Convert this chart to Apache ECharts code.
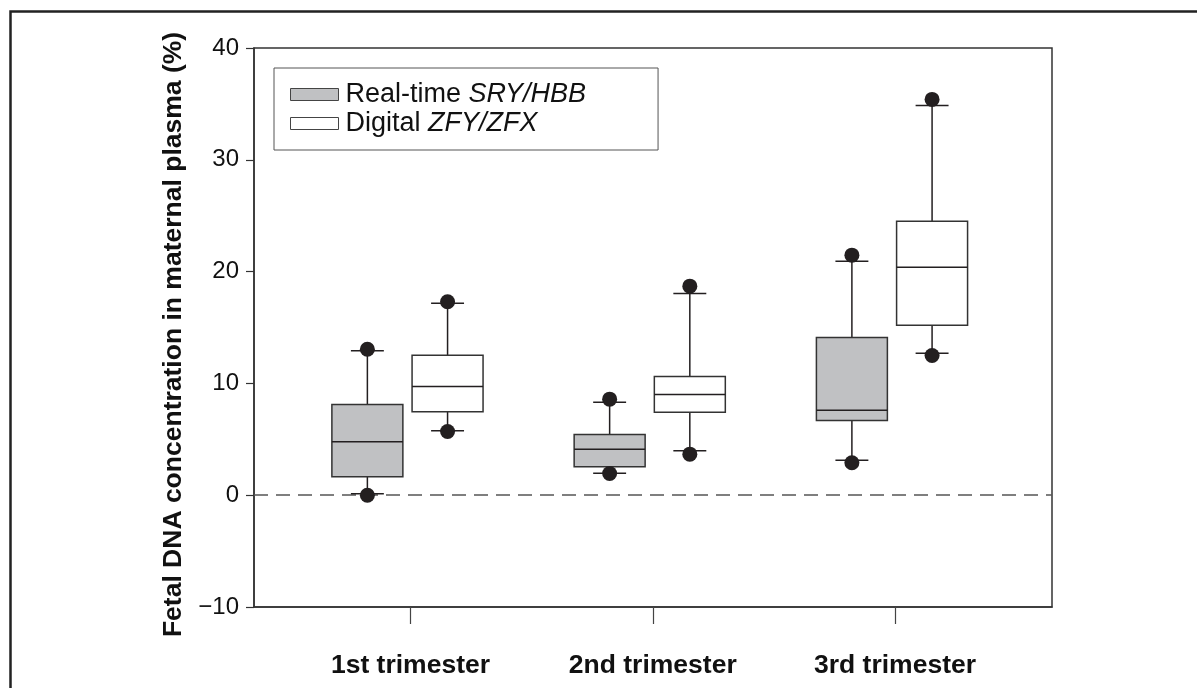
<!DOCTYPE html>
<html>
<head>
<meta charset="utf-8">
<title>Fetal DNA concentration by trimester</title>
<script src="https://cdn.jsdelivr.net/npm/echarts@6/dist/echarts.min.js"></script>
<style>
  html, body { margin: 0; padding: 0; background: #fff; }
  #chart { width: 1197px; height: 688px; }
</style>
</head>
<body>
<div id="chart"></div>
<script>
// categories on the x axis
const trimesters = ['1st trimester', '2nd trimester', '3rd trimester'];

// Real-time SRY/HBB (grey boxes)
const sryLowPoint = [0.0, 1.94, 2.9];
const sryLowWhisker = [0.12, 1.97, 3.13];
const sryQ1 = [1.64, 2.54, 6.68];
const sryMedian = [4.78, 4.11, 7.6];
const sryQ3 = [8.11, 5.43, 14.1];
const sryHighWhisker = [12.92, 8.32, 20.93];
const sryHighPoint = [13.06, 8.59, 21.47];

// Digital ZFY/ZFX (white boxes)
const zfyLowPoint = [5.7, 3.67, 12.5];
const zfyLowWhisker = [5.76, 3.97, 12.7];
const zfyQ1 = [7.46, 7.43, 15.2];
const zfyMedian = [9.72, 9.0, 20.4];
const zfyQ3 = [12.52, 10.62, 24.5];
const zfyHighWhisker = [17.17, 18.04, 34.86];
const zfyHighPoint = [17.3, 18.7, 35.4];

// y axis ticks
const yTicks = [-10, 0, 10, 20, 30, 40];

const SRY_NAME = 'Real-time SRY/HBB';
const ZFY_NAME = 'Digital ZFY/ZFX';
const GREY = '#c0c1c3';
const INK = '#231f20';
const FONT = 'Liberation Sans, Arial, sans-serif';
const SRY_OFFSET = -0.178;
const ZFY_OFFSET = 0.153;
const BOX_W = 0.293;   // axis units
const CAP_W = 0.136;

function boxData(offset, lowW, q1, med, q3, highW) {
  return trimesters.map((_, i) => [i + 1 + offset, lowW[i], q1[i], med[i], q3[i], highW[i]]);
}
function pointData(offset, low, high) {
  const out = [];
  trimesters.forEach((_, i) => {
    out.push([i + 1 + offset, low[i]]);
    out.push([i + 1 + offset, high[i]]);
  });
  return out;
}

// box + whiskers drawn through the axes
function renderBox(fill) {
  return function (params, api) {
    const x = api.value(0);
    const pLow = api.coord([x, api.value(1)]);
    const pQ1 = api.coord([x, api.value(2)]);
    const pMed = api.coord([x, api.value(3)]);
    const pQ3 = api.coord([x, api.value(4)]);
    const pHigh = api.coord([x, api.value(5)]);
    const bw = api.size([BOX_W, 0])[0];
    const cw = api.size([CAP_W, 0])[0];
    const cx = pMed[0];
    const line = (x1, y1, x2, y2, w) => ({
      type: 'line',
      shape: { x1: x1, y1: y1, x2: x2, y2: y2 },
      style: { stroke: INK, lineWidth: w || 1.5 }
    });
    return {
      type: 'group',
      children: [
        line(cx, pLow[1], cx, pQ1[1]),
        line(cx, pQ3[1], cx, pHigh[1]),
        line(cx - cw / 2, pLow[1], cx + cw / 2, pLow[1]),
        line(cx - cw / 2, pHigh[1], cx + cw / 2, pHigh[1]),
        {
          type: 'rect',
          shape: { x: cx - bw / 2, y: pQ3[1], width: bw, height: pQ1[1] - pQ3[1] },
          style: { fill: fill, stroke: '#333', lineWidth: 1.5 }
        },
        line(cx - bw / 2, pMed[1], cx + bw / 2, pMed[1])
      ]
    };
  };
}

const chart = echarts.init(document.getElementById('chart'));

chart.setOption({
  animation: false,
  backgroundColor: '#fff',
  textStyle: { fontFamily: FONT, color: '#111' },
  graphic: [{
    type: 'rect',
    left: 8, top: 9,
    shape: { width: 1400, height: 1000 },
    style: { fill: 'none', stroke: '#222', lineWidth: 2.5 },
    silent: true
  }],
  grid: {
    left: 254, right: 145, top: 48, bottom: 81,
    show: true, borderColor: '#333', borderWidth: 1.5, backgroundColor: 'transparent'
  },
  legend: {
    orient: 'vertical',
    left: 274, top: 68,
    itemWidth: 48, itemHeight: 12, itemGap: 2,
    padding: [13, 72, 13, 16],
    borderColor: '#555', borderWidth: 1, backgroundColor: '#fff',
    selectedMode: false,
    icon: 'rect',
    data: [
      { name: SRY_NAME, itemStyle: { color: GREY, borderColor: '#444', borderWidth: 1 } },
      { name: ZFY_NAME, itemStyle: { color: '#fff', borderColor: '#444', borderWidth: 1 } }
    ],
    formatter: function (name) {
      const parts = name.split(' ');
      return '{n|' + parts[0] + ' }{i|' + parts[1] + '}';
    },
    textStyle: {
      fontSize: 27, fontFamily: FONT, color: '#111',
      rich: {
        n: { fontSize: 27, color: '#111', fontFamily: FONT, padding: [0, 0, 0, 2] },
        i: { fontSize: 27, color: '#111', fontStyle: 'italic', fontFamily: FONT }
      }
    }
  },
  xAxis: {
    type: 'value',
    min: 0.354, max: 3.648,
    splitLine: { show: false },
    axisLine: { show: true, onZero: false, lineStyle: { color: '#333', width: 1.5 } },
    axisTick: { show: true, customValues: [1, 2, 3], length: 17, lineStyle: { color: '#444', width: 1.2 } },
    axisLabel: {
      customValues: [1, 2, 3],
      formatter: v => trimesters[Math.round(v) - 1] || '',
      fontSize: 26.5, fontWeight: 'bold', color: '#111', margin: 45
    }
  },
  yAxis: {
    type: 'value',
    min: yTicks[0], max: yTicks[yTicks.length - 1], interval: 10,
    name: 'Fetal DNA concentration in maternal plasma (%)',
    nameLocation: 'middle',
    nameGap: 64,
    nameTextStyle: { fontSize: 26.5, fontWeight: 'bold', color: '#111', padding: [0, 14, 0, 0] },
    splitLine: { show: false },
    axisLine: { show: true, onZero: false, lineStyle: { color: '#333', width: 1.5 } },
    axisTick: { show: true, length: 8, lineStyle: { color: '#333', width: 1.2 } },
    axisLabel: {
      fontSize: 24, color: '#111', margin: 15,
      formatter: v => (v < 0 ? '\u2212' + Math.abs(v) : String(v))
    }
  },
  series: [
    {
      name: SRY_NAME,
      type: 'custom',
      itemStyle: { color: GREY, borderColor: '#444' },
      renderItem: renderBox(GREY),
      encode: { x: 0, y: [1, 2, 3, 4, 5] },
      data: boxData(SRY_OFFSET, sryLowWhisker, sryQ1, sryMedian, sryQ3, sryHighWhisker),
      z: 3
    },
    {
      name: ZFY_NAME,
      type: 'custom',
      itemStyle: { color: '#fff', borderColor: '#444' },
      renderItem: renderBox('#fff'),
      encode: { x: 0, y: [1, 2, 3, 4, 5] },
      data: boxData(ZFY_OFFSET, zfyLowWhisker, zfyQ1, zfyMedian, zfyQ3, zfyHighWhisker),
      z: 3
    },
    {
      name: 'sry points',
      type: 'scatter',
      symbol: 'circle',
      symbolSize: 15,
      itemStyle: { color: INK, opacity: 1 },
      data: pointData(SRY_OFFSET, sryLowPoint, sryHighPoint),
      z: 4,
      markLine: {
        silent: true,
        symbol: 'none',
        label: { show: false },
        lineStyle: { color: '#555', type: [14, 8], width: 1.5 },
        data: [{ yAxis: 0 }],
        z: 1
      }
    },
    {
      name: 'zfy points',
      type: 'scatter',
      symbol: 'circle',
      symbolSize: 15,
      itemStyle: { color: INK, opacity: 1 },
      data: pointData(ZFY_OFFSET, zfyLowPoint, zfyHighPoint),
      z: 4
    }
  ]
});
</script>
</body>
</html>
